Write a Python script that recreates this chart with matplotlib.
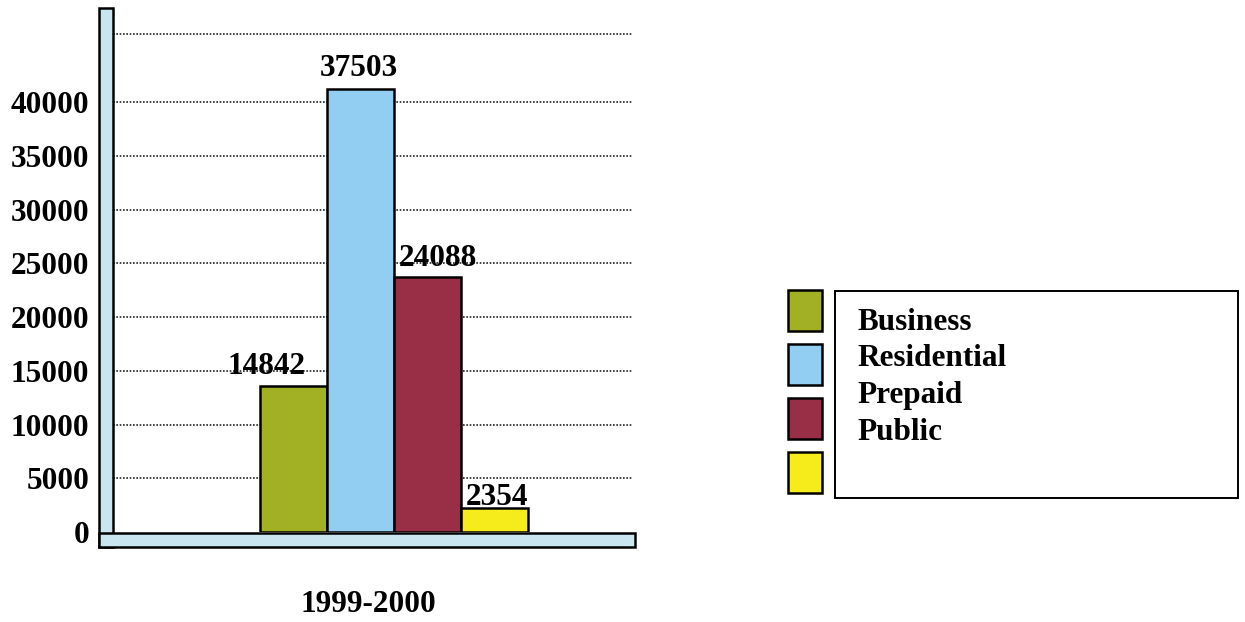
import matplotlib
matplotlib.use("Agg")
import matplotlib.pyplot as plt
from matplotlib.patches import Rectangle

# ---- data ----
categories = ["Business", "Residential", "Prepaid", "Public"]
label_values = [14842, 37503, 24088, 2354]          # printed data labels
bar_heights = [13600, 41200, 23700, 2250]            # heights as drawn in the picture
period = "1999-2000"
yticks = [0, 5000, 10000, 15000, 20000, 25000, 30000, 35000, 40000]

colors = ["#a2b024", "#92cdf2", "#992f47", "#f6ec1c"]
wall_color = "#c9e5ef"

W, H = 1245, 622
fig = plt.figure(figsize=(W / 100, H / 100), dpi=100)
fig.patch.set_facecolor("white")

def fx(px):
    return px / W

def fy(py):
    return 1 - py / H

FONT = "Liberation Serif"
FS = 22.5

# main axes
ax_left, ax_right, ax_top, ax_bottom = 113, 633, 34, 532
ax = fig.add_axes([fx(ax_left), fy(ax_bottom), fx(ax_right - ax_left), (ax_bottom - ax_top) / H])
ax.set_facecolor("none")
for s in ax.spines.values():
    s.set_visible(False)

ymax = 46330
ax.set_ylim(0, ymax)
ax.set_xlim(-0.839, 0.713)

width = 0.2
xs = [(i - 1.5) * width for i in range(len(categories))]

# gridlines
for t in yticks[1:]:
    ax.axhline(t, color="#222222", lw=1.2, ls=(0, (1, 1)), zorder=1)
ax.axhline(ymax, color="#222222", lw=1.2, ls=(0, (1, 1)), zorder=1, clip_on=False)

bars = ax.bar(xs, bar_heights, width=width, color=colors, edgecolor="black", linewidth=1.8, zorder=3)

label_dx = [-27, -2, 10, 2]   # pixel offsets of labels relative to bar centre
label_dy = [5, 6, 4, -4]
for b, v, dx, dy in zip(bars, label_values, label_dx, label_dy):
    ax.annotate(str(v), (b.get_x() + b.get_width() / 2, b.get_height()),
                xytext=(dx * 0.72, dy * 0.72), textcoords="offset points",
                ha="center", va="bottom", fontsize=FS, fontweight="bold",
                family=FONT, zorder=5, annotation_clip=False)

ax.set_xticks([])
ax.set_yticks(yticks)
ax.set_yticklabels([str(t) for t in yticks], fontsize=FS, fontweight="bold", family=FONT)
ax.tick_params(axis="y", length=0, pad=17)

# 3D-like wall and floor
fig.add_artist(Rectangle((fx(99), fy(547)), fx(113 - 99), (547 - 8) / H,
                         transform=fig.transFigure, facecolor=wall_color,
                         edgecolor="black", lw=1.8, zorder=2))
fig.add_artist(Rectangle((fx(99), fy(547)), fx(635 - 99), (547 - 533) / H,
                         transform=fig.transFigure, facecolor=wall_color,
                         edgecolor="black", lw=1.8, zorder=2))

# category label
fig.text(fx(368), fy(605), period, ha="center", va="center", fontsize=FS,
         fontweight="bold", family=FONT)

# legend (manual)
fig.add_artist(Rectangle((fx(835), fy(498)), fx(1238 - 835), (498 - 291) / H,
                         transform=fig.transFigure, facecolor="white",
                         edgecolor="black", lw=1.4))
sw_tops = [290, 344, 398, 452]
for c, top in zip(colors, sw_tops):
    fig.add_artist(Rectangle((fx(788), fy(top + 41)), fx(34), 41 / H,
                             transform=fig.transFigure, facecolor=c,
                             edgecolor="black", lw=1.8))
txt_y = [322, 358, 395, 432]
for name, y in zip(categories, txt_y):
    fig.text(fx(857), fy(y), name, ha="left", va="center", fontsize=FS,
             fontweight="bold", family=FONT)

fig.savefig("out.png", dpi=100)
